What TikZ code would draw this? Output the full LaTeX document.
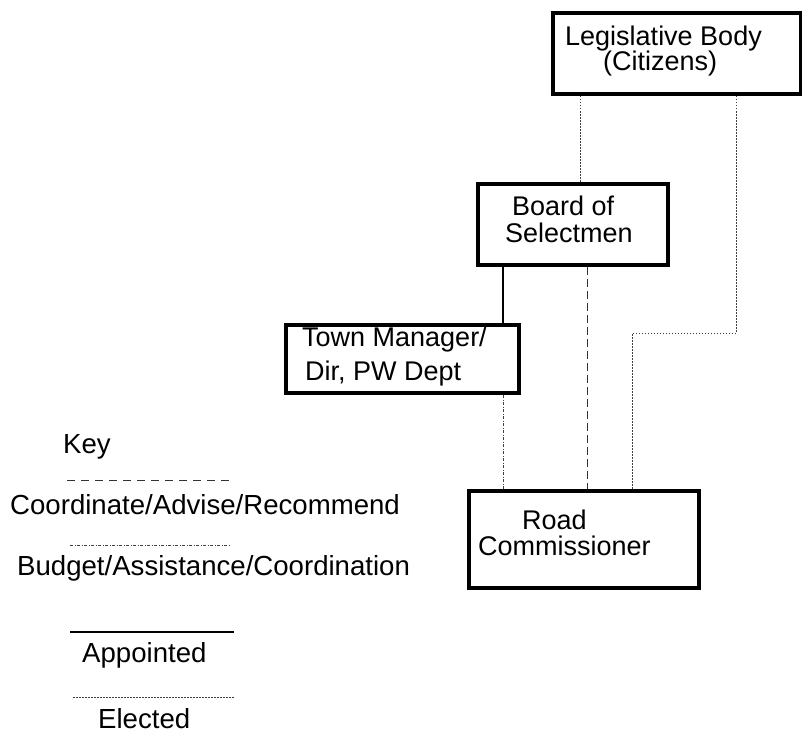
\documentclass[tikz,border=0pt]{standalone}
\usepackage{fontspec}
\setmainfont{Liberation Sans}
\begin{document}
\begin{tikzpicture}[x=1pt,y=-1pt,
  box/.style={draw=black,line width=4pt,inner sep=0pt,anchor=north west},
  txt/.style={inner sep=0pt,anchor=base west,font=\fontsize{27}{27}\selectfont},
  keytxt/.style={inner sep=0pt,anchor=base west,font=\fontsize{27.6}{28}\selectfont},
  elected/.style={draw=black!75,line width=1pt,dash pattern=on 1.5pt off 1.5pt},
  coordline/.style={draw=black!80,line width=1pt,dash pattern=on 8pt off 4pt},
  budget/.style={draw=black!75,line width=1pt,dash pattern=on 3pt off 1.5pt on 1pt off 1.5pt},
  appointed/.style={draw=black,line width=2pt}]
\useasboundingbox (0,0) rectangle (802,733);
\fill[white] (0,0) rectangle (802,733);
% boxes
\node[box,minimum width=248pt,minimum height=81pt] (leg) at (551,11) {};
\node[box,minimum width=190pt,minimum height=81pt] (board) at (476,182) {};
\node[box,minimum width=233pt,minimum height=68pt] (tm) at (284,323) {};
\node[box,minimum width=230pt,minimum height=97pt] (road) at (467,489) {};
% box texts
\node[txt] (leg1) at (565,46) {Legislative Body};
\node[txt] (leg2) at (603,71) {(Citizens)};
\node[txt] (board1) at (512,215) {Board of};
\node[txt] (board2) at (505,242) {Selectmen};
\node[txt] (tm1) at (302,346) {Town Manager/};
\node[txt] (tm2) at (305,380) {Dir, PW Dept};
\node[txt] (road1) at (522,529) {Road};
\node[txt] (road2) at (478,555) {Commissioner};
% connector columns
\coordinate (cA) at (580,0);
\coordinate (cB) at (736,0);
\coordinate (cBend) at (632,333);
\coordinate (cC) at (503,0);
\coordinate (cD) at (587,0);
% connectors
\draw[elected] (leg.south -| cA) -- (board.north -| cA);
\draw[elected] (leg.south -| cB) |- (cBend) -- (cBend |- road.north);
\draw[appointed] (board.south -| cC) -- (tm.north -| cC);
\draw[coordline] (board.south -| cD) -- (road.north -| cD);
\draw[budget] (tm.south -| cC) -- (road.north -| cC);
% key
\node[keytxt] (key) at (63,453) {Key};
\draw[draw=black!80,line width=1pt,dash pattern=on 8pt off 6pt] (67,480) -- (230,480);
\node[keytxt] (k1) at (10,514) {Coordinate/Advise/Recommend};
\draw[budget] (70,545) -- (230,545);
\node[keytxt] (k2) at (17,575) {Budget/Assistance/Coordination};
\draw[appointed] (70,632) -- (234,632);
\node[keytxt] (k3) at (82,662) {Appointed};
\draw[elected] (73,697) -- (234,697);
\node[keytxt] (k4) at (98,728) {Elected};
\end{tikzpicture}
\end{document}
